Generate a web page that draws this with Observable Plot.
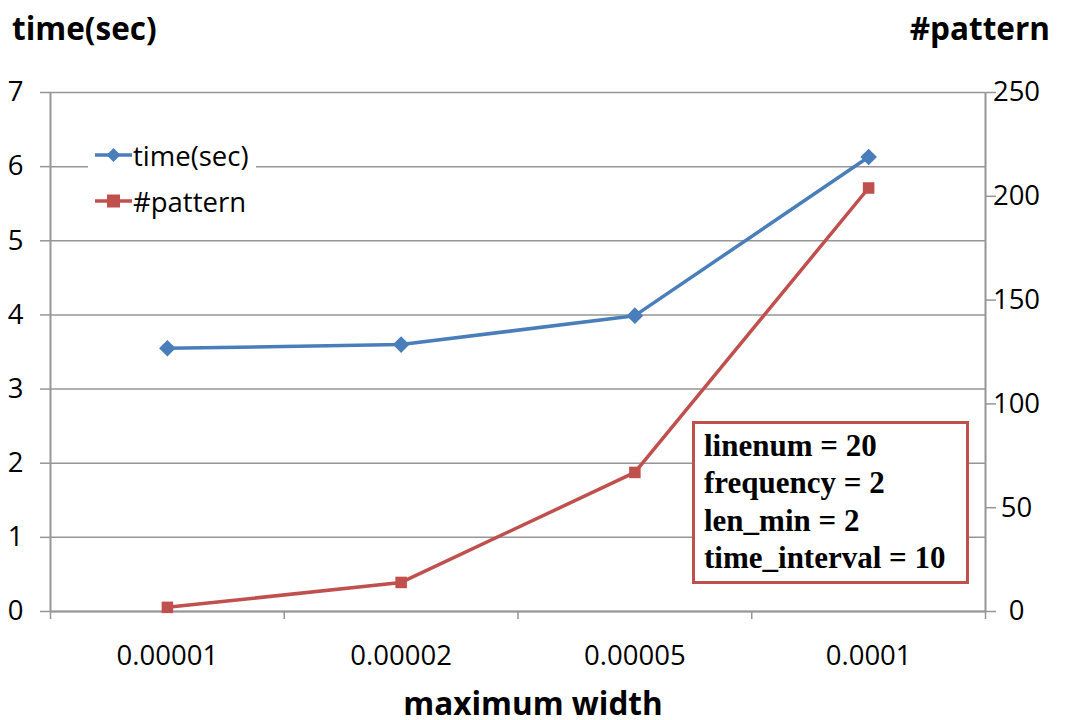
<!DOCTYPE html>
<html>
<head>
<meta charset="utf-8">
<script src="https://cdn.jsdelivr.net/npm/d3@7"></script>
<script src="https://cdn.jsdelivr.net/npm/@observablehq/plot@0.6"></script>
<style>
  html, body { margin: 0; padding: 0; background: #fff; }
  #wrap { position: relative; width: 1066px; height: 720px; font-family: "Open Sans", sans-serif; overflow: hidden; }
  #wrap > svg { position: absolute; left: 0; top: 0; }
  .title { position: absolute; font-weight: bold; font-size: 31.5px; color: #000; white-space: nowrap; line-height: 1; }
  #legend { position: absolute; left: 88px; top: 136px; width: 168px; height: 86px; background: #fff; }
  .lg-row { position: absolute; left: 7px; height: 36px; display: flex; align-items: center; font-size: 27.5px; white-space: nowrap; }
  .lg-row svg { display: block; margin-right: 1px; }
  #note { position: absolute; left: 692px; top: 421px; width: 262px; height: 157px; border: 3px solid #c0504d; background: #fff;
          font-family: "Liberation Serif", "Times New Roman", serif; font-weight: bold; font-size: 31px; line-height: 37.3px; padding: 0 0 0 9px; }
  #note div { white-space: nowrap; }
</style>
</head>
<body>
<div id="wrap"></div>
<script>
// Categories (maximum width) and the two measured series
const widths = ["0.00001", "0.00002", "0.00005", "0.0001"];
const timeSec = [3.55, 3.60, 3.99, 6.13];
const patterns = [2, 14, 67, 204];

// Axis ticks
const leftTicks = [0, 1, 2, 3, 4, 5, 6, 7];
const rightTicks = [0, 50, 100, 150, 200, 250];
const leftMax = 7, rightMax = 250;

// Annotation lines
const noteLines = ["linenum = 20", "frequency = 2", "len_min = 2", "time_interval = 10"];

const blue = "#4a7ebb", red = "#c0504d", gray = "#969696";

// Categories are placed at 1..4 on a linear scale so band edges (x.5) can carry ticks
const timeData = widths.map((w, i) => ({pos: i + 1, v: timeSec[i]}));
const patData = widths.map((w, i) => ({pos: i + 1, v: patterns[i] * leftMax / rightMax}));

const chart = Plot.plot({
  width: 1066,
  height: 720,
  marginTop: 92,
  marginBottom: 109,
  marginLeft: 50,
  marginRight: 81,
  style: {fontFamily: "'Open Sans', sans-serif", fontSize: "27.5px", color: "#000", background: "transparent"},
  x: {type: "linear", domain: [0.5, widths.length + 0.5]},
  y: {domain: [0, leftMax]},
  marks: [
    Plot.gridY({ticks: leftTicks, stroke: gray, strokeOpacity: 1, strokeWidth: 1.5}),
    Plot.axisY({ticks: leftTicks, tickFormat: d => String(d), tickSize: 10, tickPadding: 25, textAnchor: "middle", label: null,
                stroke: gray, strokeWidth: 1.5, fontSize: 27.5}),
    Plot.axisY({anchor: "right", ticks: rightTicks.map(t => t * leftMax / rightMax),
                tickFormat: d => String(Math.round(d * rightMax / leftMax)),
                tickSize: 10, tickPadding: 21, textAnchor: "middle", label: null,
                stroke: gray, strokeWidth: 1.5, fontSize: 27.5}),
    Plot.axisX({ticks: d3.range(0.5, widths.length + 1, 1), tickSize: 8, tickFormat: () => "",
                stroke: gray, strokeWidth: 1.5, label: null}),
    Plot.axisX({ticks: d3.range(1, widths.length + 1), tickSize: 0, tickPadding: 34,
                tickFormat: d => widths[d - 1], label: null, fontSize: 27.5}),
    Plot.ruleX([0.5, widths.length + 0.5], {stroke: gray, strokeWidth: 2}),
    Plot.ruleY([0], {stroke: gray, strokeWidth: 2}),
    Plot.line(timeData, {x: "pos", y: "v", stroke: blue, strokeWidth: 3.5}),
    Plot.dot(timeData, {x: "pos", y: "v", symbol: "diamond2", r: 7.5, fill: blue, stroke: "none"}),
    Plot.line(patData, {x: "pos", y: "v", stroke: red, strokeWidth: 3.5}),
    Plot.dot(patData, {x: "pos", y: "v", symbol: "square", r: 6.5, fill: red, stroke: "none"})
  ]
});

const wrap = document.getElementById("wrap");
wrap.appendChild(chart);

function addTitle(text, css) {
  const el = document.createElement("div");
  el.className = "title";
  el.textContent = text;
  Object.assign(el.style, css);
  wrap.appendChild(el);
}
addTitle("time(sec)", {left: "12px", top: "12px"});
addTitle("#pattern", {right: "16px", top: "12px"});
addTitle("maximum width", {left: "0", width: "1066px", textAlign: "center", top: "687px"});

// Legend
const legend = document.createElement("div");
legend.id = "legend";
const series = [
  {name: "time(sec)", color: blue, shape: "diamond"},
  {name: "#pattern", color: red, shape: "square"}
];
series.forEach((s, i) => {
  const row = document.createElement("div");
  row.className = "lg-row";
  row.style.top = (1 + i * 46) + "px";
  const sw = d3.create("svg").attr("width", 37).attr("height", 20);
  sw.append("line").attr("x1", 0).attr("x2", 37).attr("y1", 10).attr("y2", 10)
    .attr("stroke", s.color).attr("stroke-width", 3.5);
  if (s.shape === "diamond") {
    sw.append("path").attr("d", "M18.5,3 L25.5,10 L18.5,17 L11.5,10 Z").attr("fill", s.color);
  } else {
    sw.append("rect").attr("x", 12).attr("y", 3.5).attr("width", 13).attr("height", 13).attr("fill", s.color);
  }
  row.appendChild(sw.node());
  const t = document.createElement("span");
  t.textContent = s.name;
  row.appendChild(t);
  legend.appendChild(row);
});
wrap.appendChild(legend);

// Parameter note
const note = document.createElement("div");
note.id = "note";
noteLines.forEach((line, i) => {
  const d = document.createElement("div");
  d.textContent = line;
  if (i === 0) d.style.marginTop = "3px";
  note.appendChild(d);
});
wrap.appendChild(note);
</script>
</body>
</html>
